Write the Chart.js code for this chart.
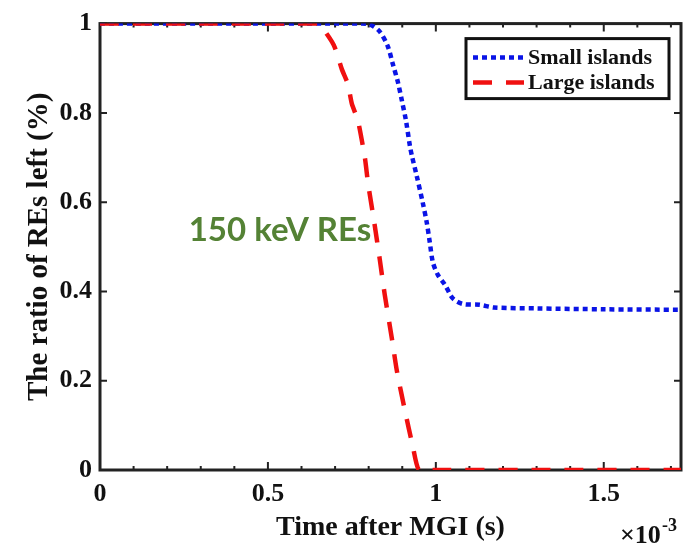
<!DOCTYPE html>
<html>
<head>
<meta charset="utf-8">
<script src="https://cdn.jsdelivr.net/npm/chart.js@4.4.1/dist/chart.umd.min.js"></script>
<style>
  html, body { margin: 0; padding: 0; background: #fff; }
  #wrap { width: 688px; height: 546px; }
</style>
</head>
<body>
<div id="wrap"><canvas id="c"></canvas></div>
<script>
// time after MGI, in units of 1e-3 s (axis shows x10^-3)
var smallTime = [0, 0.4, 0.78, 0.804, 0.833, 0.857, 0.872, 0.887, 0.899, 0.911, 0.923, 0.929, 0.943, 0.961, 0.973, 0.982, 0.991, 1.006, 1.027, 1.051, 1.080, 1.131, 1.173, 1.3, 1.5, 1.73];
var smallRatio = [1, 1, 1, 0.998, 0.982, 0.949, 0.909, 0.869, 0.827, 0.783, 0.725, 0.703, 0.659, 0.599, 0.554, 0.510, 0.466, 0.437, 0.415, 0.384, 0.372, 0.370, 0.364, 0.362, 0.360, 0.359];

var largeTime = [0, 0.3, 0.65, 0.676, 0.699, 0.720, 0.738, 0.750, 0.768, 0.789, 0.798, 0.818, 0.833, 0.848, 0.869, 0.884, 0.908, 0.932, 0.95, 1.0, 1.3, 1.73];
var largeRatio = [1, 1, 1, 0.976, 0.947, 0.898, 0.865, 0.820, 0.783, 0.698, 0.643, 0.548, 0.472, 0.392, 0.295, 0.222, 0.133, 0.051, 0, 0, 0, 0];

var seriesNames = ['Small islands', 'Large islands'];
var xMax = 1.73;
var yTicks = [0, 0.2, 0.4, 0.6, 0.8, 1];
var xTicks = [0, 0.5, 1, 1.5];
var noteText = '150 keV REs';

function pts(xs, ys) {
  var out = [];
  for (var i = 0; i < xs.length; i++) out.push({x: xs[i], y: ys[i]});
  return out;
}

var serif = '"Liberation Serif", "Times New Roman", serif';

// box with inward ticks like matlab
var boxPlugin = {
  id: 'box',
  beforeDatasetsDraw: function (chart) {
    var ctx = chart.ctx, a = chart.chartArea;
    var x = chart.scales.x, y = chart.scales.y;
    ctx.save();
    ctx.strokeStyle = '#222';
    ctx.lineWidth = 3;
    ctx.strokeRect(a.left, a.top, a.right - a.left, a.bottom - a.top);
    ctx.lineWidth = 2;
    ctx.beginPath();
    for (var k = 0; k <= 17; k++) {
      var px = x.getPixelForValue(k / 10);
      var len = (k % 5 === 0) ? 8 : 4;
      ctx.moveTo(px, a.bottom); ctx.lineTo(px, a.bottom - len);
      ctx.moveTo(px, a.top); ctx.lineTo(px, a.top + len);
    }
    yTicks.forEach(function (v) {
      var py = y.getPixelForValue(v);
      ctx.moveTo(a.left, py); ctx.lineTo(a.left + 7, py);
      ctx.moveTo(a.right, py); ctx.lineTo(a.right - 7, py);
    });
    ctx.stroke();
    ctx.restore();
  },
  afterDraw: function (chart) {
    var ctx = chart.ctx, a = chart.chartArea;
    var x = chart.scales.x, y = chart.scales.y;
    ctx.save();
    // note text
    ctx.fillStyle = '#548235';
    ctx.font = 'bold 33px Lato, "Open Sans", sans-serif';
    ctx.textAlign = 'center';
    ctx.textBaseline = 'middle';
    ctx.fillText(noteText, x.getPixelForValue(0.536), y.getPixelForValue(0.537));

    // exponent label
    ctx.fillStyle = '#111';
    ctx.textAlign = 'left';
    ctx.textBaseline = 'alphabetic';
    ctx.font = 'bold 26px ' + serif;
    ctx.fillText('\u00d710', a.right - 61, 543);
    ctx.font = 'bold 18px ' + serif;
    ctx.fillText('-3', a.right - 19, 531);

    // legend
    var lx = a.right - 215, ly = a.top + 15, lw = 203, lh = 60;
    ctx.fillStyle = '#fff';
    ctx.fillRect(lx, ly, lw, lh);
    ctx.strokeStyle = '#111';
    ctx.lineWidth = 3;
    ctx.strokeRect(lx, ly, lw, lh);
    var ds = chart.data.datasets;
    var rows = [ly + 19, ly + 44];
    for (var i = 0; i < ds.length; i++) {
      ctx.strokeStyle = ds[i].borderColor;
      ctx.lineWidth = ds[i].borderWidth;
      ctx.setLineDash(ds[i].borderDash);
      ctx.beginPath();
      ctx.moveTo(lx + 7, rows[i]);
      ctx.lineTo(lx + 58, rows[i]);
      ctx.stroke();
      ctx.setLineDash([]);
      ctx.fillStyle = '#111';
      ctx.font = 'bold 22px ' + serif;
      ctx.textBaseline = 'middle';
      ctx.fillText(ds[i].label, lx + 62, rows[i] + 1);
    }
    ctx.restore();
  }
};

window.onload = function () {
  new Chart(document.getElementById('c'), {
    type: 'line',
    data: {
      datasets: [{
        label: seriesNames[0],
        data: pts(smallTime, smallRatio),
        borderColor: '#0a14e6',
        borderWidth: 4.5,
        borderDash: [5, 4],
        pointRadius: 0,
        tension: 0.3,
        fill: false,
        order: 2
      }, {
        label: seriesNames[1],
        data: pts(largeTime, largeRatio),
        borderColor: '#f01010',
        borderWidth: 4.5,
        borderDash: [19, 14],
        pointRadius: 0,
        tension: 0.2,
        fill: false,
        order: 1
      }]
    },
    options: {
      responsive: true,
      maintainAspectRatio: false,
      animation: false,
      layout: { padding: { left: 8, right: 7, top: 19, bottom: 0 } },
      plugins: { legend: { display: false }, tooltip: { enabled: false } },
      scales: {
        x: {
          type: 'linear',
          min: 0, max: xMax,
          afterBuildTicks: function (s) { s.ticks = xTicks.map(function (v) { return {value: v}; }); },
          afterFit: function (s) { s.height = 76; },
          grid: { display: false, drawTicks: false },
          border: { display: false },
          ticks: {
            padding: 9,
            color: '#111',
            font: { family: serif, size: 26, weight: 'bold' },
            maxRotation: 0,
            callback: function (v) { return String(v); }
          },
          title: {
            display: true,
            text: 'Time after MGI (s)',
            color: '#111',
            font: { family: serif, size: 28, weight: 'bold' },
            padding: { top: 0, bottom: 1 }
          }
        },
        y: {
          min: 0, max: 1,
          afterBuildTicks: function (s) { s.ticks = yTicks.map(function (v) { return {value: v}; }); },
          afterFit: function (s) { s.width = 92; },
          grid: { display: false, drawTicks: false },
          border: { display: false },
          ticks: {
            padding: 8,
            color: '#111',
            font: { family: serif, size: 26, weight: 'bold' },
            callback: function (v) { return String(v); }
          },
          title: {
            display: true,
            text: 'The ratio of REs left (%)',
            color: '#111',
            font: { family: serif, size: 29, weight: 'bold' },
            padding: { top: 14, bottom: 0 }
          }
        }
      }
    },
    plugins: [boxPlugin]
  });
};
</script>
</body>
</html>
